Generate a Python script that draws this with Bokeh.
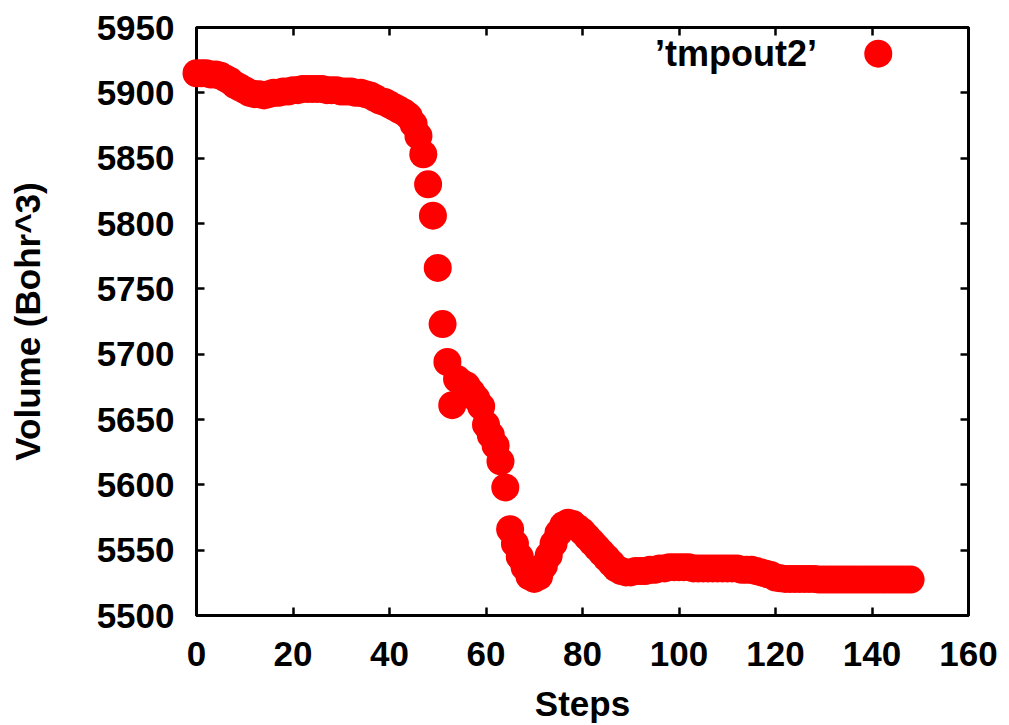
from bokeh.plotting import figure
from bokeh.models import Range1d, LinearAxis, FixedTicker, Label, ColumnDataSource, CustomJSTickFormatter
from bokeh.embed import file_html
from bokeh.resources import INLINE

# ---- data ----
volume = [
    5915, 5915, 5915, 5914, 5914, 5913, 5911, 5909, 5906, 5904, 5902,   # 0-10
    5900, 5899, 5899, 5898, 5899, 5900, 5900, 5901, 5901, 5902,         # 11-20
    5902, 5903, 5903, 5903, 5903, 5903, 5902, 5902, 5902, 5901,         # 21-30
    5901, 5901, 5900, 5900, 5899, 5898, 5896, 5894, 5893, 5891,         # 31-40
    5889, 5887, 5885, 5882, 5876, 5867, 5853, 5830, 5806, 5766,         # 41-50
    5723, 5694, 5661, 5681, 5678, 5676, 5671, 5666, 5660, 5646,         # 51-60
    5638, 5630, 5618, 5598, 5566, 5555, 5545, 5537, 5530, 5528,         # 61-70
    5530, 5538, 5546, 5555, 5563, 5569, 5571, 5570, 5567, 5564,         # 71-80
    5560, 5556, 5552, 5548, 5544, 5540, 5536, 5534, 5533, 5533,         # 81-90
    5534, 5534, 5534, 5535, 5535, 5536, 5536, 5537, 5537, 5537,         # 91-100
    5537, 5537, 5536, 5536, 5536, 5536, 5536, 5536, 5536, 5536,         # 101-110
    5536, 5536, 5535, 5535, 5535, 5534, 5533, 5532, 5531, 5529,         # 111-120
    5528.5, 5528, 5528, 5528, 5528, 5528, 5528, 5528, 5527.5, 5527.5,   # 121-130
    5527.5, 5527.5, 5527.5, 5527.5, 5527.5, 5527.5, 5527.5, 5527.5, 5527.5, 5527.5,  # 131-140
    5527.5, 5527.5, 5527.5, 5527.5, 5527.5, 5527.5, 5527.5, 5527.5,     # 141-148
]
steps = list(range(len(volume)))

x_ticks = [0, 20, 40, 60, 80, 100, 120, 140, 160]
y_ticks = [5500, 5550, 5600, 5650, 5700, 5750, 5800, 5850, 5900, 5950]
series_name = "\u2019tmpout2\u2019"
legend_pos_x = [128.6]
legend_marker_x = [141.3]
legend_y = [5930]

FONT = "Liberation Sans"
FS = "35px"
RED = "#ff0000"

p = figure(width=1009, height=725, output_backend="svg", toolbar_location=None,
           x_range=Range1d(0, 160), y_range=Range1d(5500, 5950),
           min_border_left=196, min_border_right=41, min_border_top=27, min_border_bottom=110,
           x_axis_label="Steps", y_axis_label="Volume (Bohr^3)")

p.xgrid.visible = False
p.ygrid.visible = False
p.outline_line_color = "black"
p.outline_line_width = 3
p.background_fill_color = "white"
p.border_fill_color = "white"

for ax, ticks in ((p.xaxis[0], x_ticks), (p.yaxis[0], y_ticks)):
    ax.ticker = FixedTicker(ticks=ticks)
    ax.axis_line_color = "black"
    ax.axis_line_width = 3
    ax.major_tick_in = 8
    ax.major_tick_out = 0
    ax.major_tick_line_width = 2.5
    ax.minor_tick_line_color = None
    ax.major_label_text_font = FONT
    ax.major_label_text_font_style = "bold"
    ax.major_label_text_font_size = FS
    ax.major_label_text_color = "black"
    ax.axis_label_text_font = FONT
    ax.axis_label_text_font_style = "bold"
    ax.axis_label_text_font_size = FS
    ax.axis_label_text_color = "black"

p.xaxis[0].major_label_standoff = 26
p.xaxis[0].axis_label_standoff = 15
p.yaxis[0].major_label_standoff = 22
p.yaxis[0].axis_label_standoff = 47

# mirrored ticks on top and right (no labels)
blank = CustomJSTickFormatter(code="return ''")
top = LinearAxis(ticker=FixedTicker(ticks=x_ticks), formatter=blank,
                 axis_line_color=None, major_tick_in=8, major_tick_out=0,
                 major_tick_line_width=2.5, minor_tick_line_color=None,
                 major_label_standoff=0)
right = LinearAxis(ticker=FixedTicker(ticks=y_ticks), formatter=blank,
                   axis_line_color=None, major_tick_in=8, major_tick_out=0,
                   major_tick_line_width=2.5, minor_tick_line_color=None,
                   major_label_standoff=0)
p.add_layout(top, "above")
p.add_layout(right, "right")

src = ColumnDataSource(dict(x=steps, y=volume))
p.scatter("x", "y", source=src, size=28, fill_color=RED, line_color=None, level="overlay")

# legend (gnuplot style: text then marker)
p.add_layout(Label(x=legend_pos_x[0], y=legend_y[0], text=series_name, text_align="right",
                   text_baseline="middle", text_font=FONT, text_font_style="bold",
                   text_font_size="36px", text_color="black"))
p.scatter(legend_marker_x, legend_y, size=28, fill_color=RED, line_color=None, level="overlay")

open("out.html", "w").write(file_html(p, INLINE))
